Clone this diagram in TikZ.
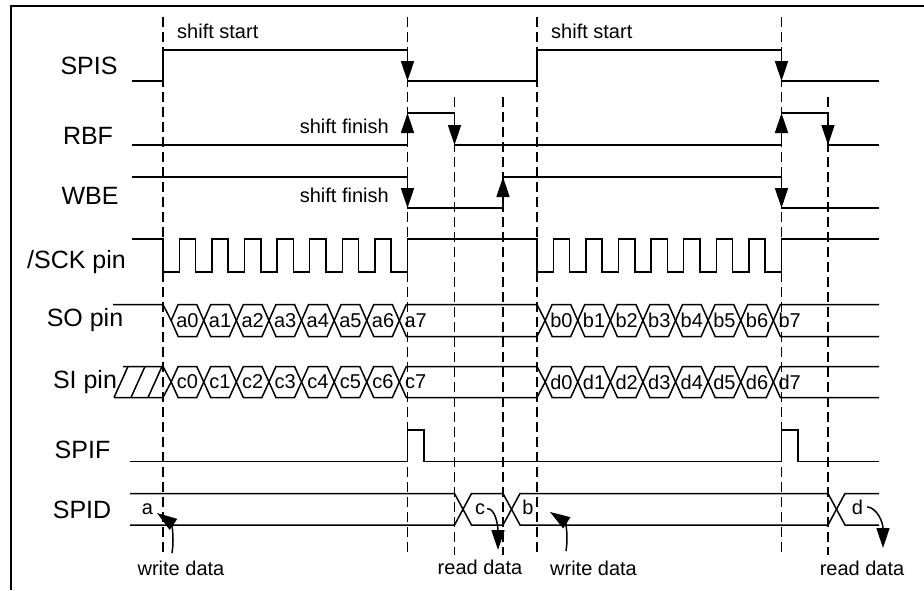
\documentclass[tikz,border=0pt]{standalone}
\usepackage{fontspec}
\setmainfont{Liberation Sans}
\usetikzlibrary{arrows.meta}

\begin{document}
\begin{tikzpicture}[x=1pt, y=-1pt,
    sig/.style={line width=1.5pt},
    guide/.style={line width=1.3pt, dash pattern=on 10pt off 5pt},
    flag/.style={sig, -{Triangle[length=20pt,width=13pt]}},
    lbl/.style={font=\fontsize{25}{30}\selectfont, anchor=base},
    note/.style={font=\fontsize{20}{24}\selectfont, anchor=base, inner sep=0pt},
    bit/.style={font=\fontsize{20}{22}\selectfont, inner sep=0pt}]
    \useasboundingbox (0,0) rectangle (924,590);
    \draw[line width=2pt] (11,590) |- (924,6);

    \foreach \x/\t in {163/17, 407.5/17, 454.5/97, 503/97, 537/17, 781.5/17, 828/97}
        \draw[guide] (\x,\t) -- (\x,555);

    \node[lbl] at (89,74) (SPIS) {SPIS};
    \node[lbl] at (88,144) (RBF) {RBF};
    \node[lbl] at (90,204) (WBE) {WBE};
    \node[lbl] at (76.5,268) (SCK) {/SCK pin};
    \node[lbl] at (85,326.5) (SO) {SO pin};
    \node[lbl] at (85,388) (SI) {SI pin};
    \node[lbl] at (82.5,458) (SPIF) {SPIF};
    \node[lbl] at (82,518) (SPID) {SPID};

    \draw[sig] (132,81) -| (163,50) -| (407.5,81) -| (537,50) -| (781.5,81) -- (879,81);
    \draw[sig] (132,145) -| (407.5,113) -| (454.5,145) -| (781.5,113) -| (828,145) -- (879,145);
    \draw[sig] (132,177) -| (407.5,208) -| (503,177) -| (781.5,208) -- (879,208);
    \foreach \x/\a/\b in {407.5/50/81, 781.5/50/81, 407.5/145/113, 454.5/113/145, 781.5/145/113,
                          828/113/145, 407.5/177/208, 503/208/177, 781.5/177/208}
        \draw[flag] (\x,\a) -- (\x,\b);

    \draw[sig] (132,239) -| (163,272)
        foreach \k in {1,...,7} {-- ++(16.3,0) -- ++(0,-33) -- ++(16.3,0) -- ++(0,33)}
        -- ++(16.3,0) -- ++(0,-33) -- (537,239) -- ++(0,33)
        foreach \k in {1,...,7} {-- ++(16.3,0) -- ++(0,-33) -- ++(16.3,0) -- ++(0,33)}
        -- ++(16.3,0) -- ++(0,-33) -- (879,239);

    \draw[sig] (113,304.5) -- (163,304.5) -- (171.15,320.5);
    \draw[sig] (123,366.5) -- (163,366.5) -- (171.15,382) -- (163,397.5) -- (114,397.5);
    \foreach \x in {114,131,148}
        \draw[sig] (\x,397.5) -- ++(14,-31);
    \foreach \m/\d in {320.5/16, 382/15.5} {
        \foreach \s in {163,537}
            \foreach \k in {0,...,6} {
                \pgfmathsetmacro\ca{\s+8.15+32.6*\k}
                \pgfmathsetmacro\cb{\ca+32.6}
                \draw[sig] (\ca,\m) -- ++(7,-\d) -- ({\cb-7},{\m-\d}) -- (\cb,\m)
                    -- ({\cb-7},{\m+\d}) -- ({\ca+7},{\m+\d}) -- cycle;
            }
        \draw[sig] (399.35,\m) -- ++(7,-\d) -- (537,{\m-\d}) -- (545.15,\m)
            -- (537,{\m+\d}) -- (406.35,{\m+\d}) -- cycle;
        \draw[sig] (879,{\m-\d}) -- (780.35,{\m-\d}) -- (773.35,\m) -- (780.35,{\m+\d}) -- (879,{\m+\d});
    }
    \foreach \s/\p/\q in {163/a/c, 537/b/d}
        \foreach \k in {0,...,7} {
            \node[bit] at ({\s+24.45+32.6*\k},320.5) (\p\k) {\p\k};
            \node[bit] at ({\s+24.45+32.6*\k},382) (\q\k) {\q\k};
        }

    \draw[sig] (130,461.5) -| (407.5,430) -| (423.8,461.5) -| (781.5,430) -| (797.8,461.5) -- (879,461.5);

    \draw[sig] (130,493.5) -- (454.5,493.5) -- (471.5,525) -- (503,525) -- (520,493.5)
        -- (828,493.5) -- (845,525) -- (879,525);
    \draw[sig] (130,525) -- (454.5,525) -- (471.5,493.5) -- (503,493.5) -- (520,525)
        -- (828,525) -- (845,493.5) -- (879,493.5);
    \node[note] at (147.5,514) (Da) {a};
    \node[note] at (480,514) (Dc) {c};
    \node[note] at (528,514) (Db) {b};
    \node[note] at (857.5,514) (Dd) {d};

    \node[note, anchor=base west] at (177,38) (start1) {shift start};
    \node[note, anchor=base west] at (551,38) (start2) {shift start};
    \node[note, anchor=base east] at (389,133) (fin1) {shift finish};
    \node[note, anchor=base east] at (389,202) (fin2) {shift finish};
    \node[note] at (181,575) (wr1) {write data};
    \node[note] at (480,574) (rd1) {read data};
    \node[note] at (593.5,575) (wr2) {write data};
    \node[note] at (862,575) (rd2) {read data};

    \coordinate (wt1) at (157,513);
    \coordinate (wt2) at (550,512);
    \coordinate (rt1) at (498,550);
    \coordinate (rt2) at (883,548);
    \draw[flag] (172,553) .. controls (175,533) and (170,522) .. (wt1);
    \draw[flag] (566,551) .. controls (569,531) and (564,521) .. (wt2);
    \draw[flag] ([xshift=2pt]Dc.east) .. controls (495,508) and (498,525) .. (rt1);
    \draw[flag] ([xshift=4pt]Dd.east) .. controls (877,508) and (883,522) .. (rt2);
\end{tikzpicture}
\end{document}
